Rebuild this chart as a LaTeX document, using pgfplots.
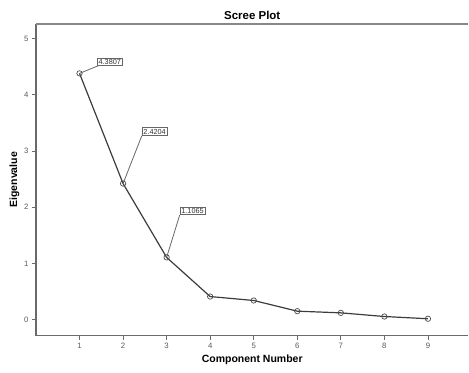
\documentclass[border=0pt]{standalone}
\usepackage{pgfplots}
\pgfplotsset{compat=1.18}
\usepackage{fontspec}
\setmainfont{Liberation Sans}
\setsansfont{Liberation Sans}
\definecolor{lineg}{HTML}{3C3C3C}
\definecolor{axg}{HTML}{6A6A6A}
\begin{document}
\begin{tikzpicture}
\begin{axis}[
  at={(0,0)}, anchor=south west,
  scale only axis, width=433pt, height=312pt,
  xmin=0, xmax=9.93, ymin=-0.285, ymax=5.26,
  axis line style={draw=none},
  xtick={1,...,9}, ytick={0,...,5},
  tick style={draw=axg, line width=0.9pt},
  tick align=outside, major tick length=4pt,
  xtick pos=bottom, ytick pos=left,
  tick label style={font=\fontsize{7.8}{9}\selectfont, text=black!65},
  /pgf/number format/assume math mode=true,
  title={\bfseries Scree Plot},
  title style={font=\fontsize{11.5}{13}\selectfont, yshift=-5pt},
  xlabel={\bfseries Component Number},
  ylabel={\bfseries Eigenvalue},
  label style={font=\fontsize{10.5}{12}\selectfont},
  xlabel style={yshift=1pt},
  ylabel style={yshift=-2pt},
  clip=false,
]
\draw[axg, line width=1.1pt] (rel axis cs:0,1) -- (rel axis cs:0,0) -- (rel axis cs:1,0);
\draw[axg!80, line width=1.1pt] (rel axis cs:0,1) -- (rel axis cs:1,1);
\addplot[lineg, line width=1.2pt, mark=o, mark size=2.7pt,
  mark options={draw=black!70, fill=black!15, line width=0.7pt}]
  coordinates {(1,4.3807) (2,2.4204) (3,1.1065) (4,0.41) (5,0.34) (6,0.15) (7,0.12) (8,0.055) (9,0.015)};
\draw[black!60, line width=0.8pt] (axis cs:1,4.3807) -- (axis cs:1.44,4.52);
\draw[black!60, line width=0.8pt] (axis cs:2,2.4204) -- (axis cs:2.43,3.27);
\draw[black!60, line width=0.8pt] (axis cs:3,1.1065) -- (axis cs:3.30,1.86);
\node[draw=black!60, line width=0.8pt, fill=white, anchor=south west, inner sep=1.3pt, font=\fontsize{7.3}{8}\selectfont, text=black!80] at (axis cs:1.40,4.51) {4.3807};
\node[draw=black!60, line width=0.8pt, fill=white, anchor=south west, inner sep=1.3pt, font=\fontsize{7.3}{8}\selectfont, text=black!80] at (axis cs:2.43,3.27) {2.4204};
\node[draw=black!60, line width=0.8pt, fill=white, anchor=south west, inner sep=1.3pt, font=\fontsize{7.3}{8}\selectfont, text=black!80] at (axis cs:3.30,1.86) {1.1065};
\end{axis}
\path[use as bounding box] (-36pt,-37pt) rectangle (433pt,336pt);
\end{tikzpicture}
\end{document}
